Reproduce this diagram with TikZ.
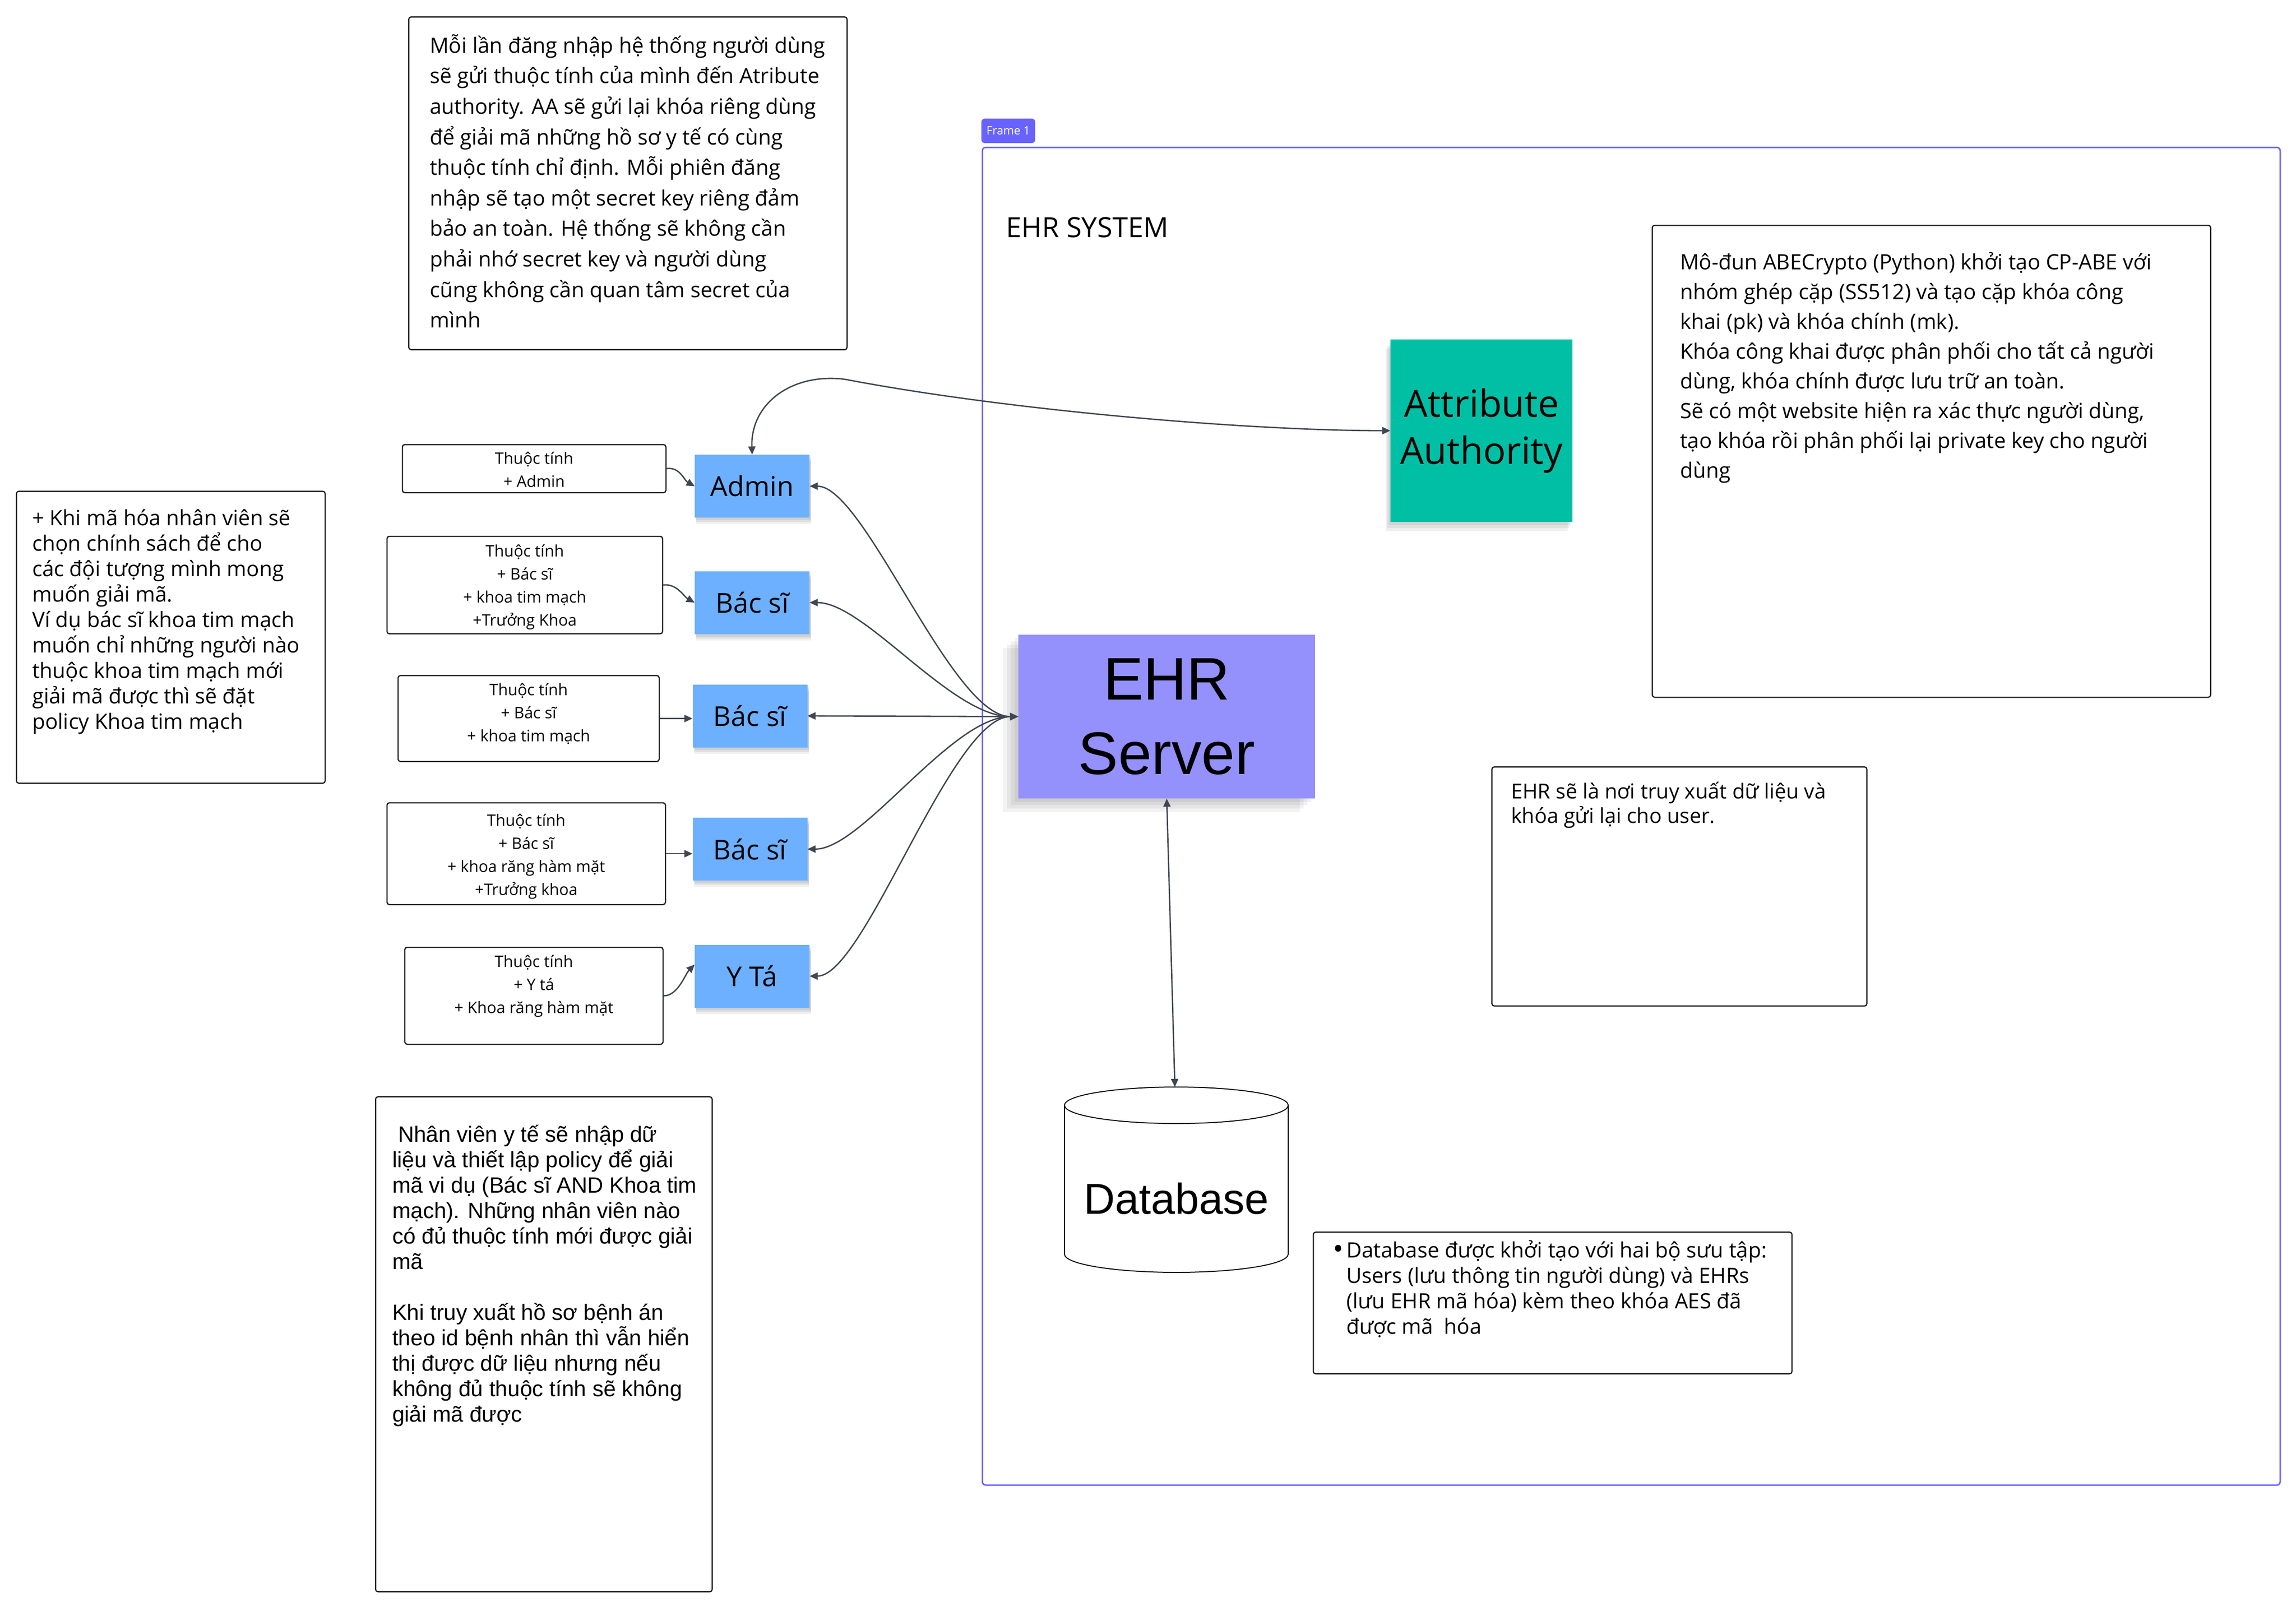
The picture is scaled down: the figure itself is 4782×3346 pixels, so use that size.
\documentclass[tikz,border=0pt]{standalone}
\usepackage{fontspec}
\setmainfont{Open Sans}
\newfontfamily\arialf{Liberation Sans}
\usetikzlibrary{arrows.meta,shadows,calc}
\definecolor{framec}{RGB}{104,98,255}
\definecolor{bluec}{RGB}{108,176,255}
\definecolor{tealc}{RGB}{0,191,165}
\definecolor{ehrc}{RGB}{148,145,252}
\definecolor{connc}{RGB}{64,70,80}
\definecolor{boxc}{RGB}{30,30,30}
\begin{document}
\begin{tikzpicture}[x=1pt,y=-1pt,
  notebox/.style={draw=boxc, fill=white, line width=2.5pt, rounded corners=5pt, inner sep=0pt, anchor=north west},
  notetext/.style={inner sep=0pt, anchor=north west, align=left},
  attrbox/.style={draw=boxc, fill=white, line width=2.5pt, rounded corners=5pt, inner sep=0pt},
  attrtext/.style={inner sep=0pt, anchor=north, align=center, font=\fontsize{33}{48}\selectfont},
  blueshadow/.style={
    general shadow={fill=black, opacity=0.07, shadow xshift=3pt, shadow yshift=-5pt},
    general shadow={fill=black, opacity=0.07, shadow xshift=3pt, shadow yshift=-9pt},
    general shadow={fill=black, opacity=0.06, shadow xshift=3pt, shadow yshift=-13pt}},
  bluebox/.style={fill=bluec, minimum width=239pt, minimum height=131pt, inner sep=0pt,
    font=\fontsize{57}{60}\selectfont, blueshadow},
  conn/.style={draw=connc, line width=2.8pt, <->, >={Triangle[length=17pt,width=15pt]}},
  feed/.style={draw=connc, line width=2.8pt, ->, >={Triangle[length=17pt,width=15pt]}}
]
\useasboundingbox (0,0) rectangle (4782,3346);
\fill[white] (0,0) rectangle (4782,3346);

% Frame
\draw[framec, line width=3pt, rounded corners=7pt] (2046,307) rectangle (4749,3093);
\node[fill=framec, rounded corners=7pt, minimum width=112pt, minimum height=51pt, inner sep=0pt,
  text=white, font=\fontsize{24}{26}\selectfont] (framelbl) at (2100,272.5) {Frame 1};
\node[inner sep=0pt, anchor=base west, font=\fontsize{58}{60}\selectfont] (systitle) at (2095,494) {EHR SYSTEM};

% Top note
\node[notebox, minimum width=913pt, minimum height=693pt] (topnote) at (850,34) {};
\node[notetext, font=\fontsize{44}{63.6}\selectfont] (topnotetext) at (895,59.4) {\rule{0pt}{50.6pt}Mỗi lần đăng nhập hệ thống người dùng\\
sẽ gửi thuộc tính của mình đến Atribute\\
authority. AA sẽ gửi lại khóa riêng dùng\\
để giải mã những hồ sơ y tế có cùng\\
thuộc tính chỉ định. Mỗi phiên đăng\\
nhập sẽ tạo một secret key riêng đảm\\
bảo an toàn. Hệ thống sẽ không cần\\
phải nhớ secret key và người dùng\\
cũng không cần quan tâm secret của\\
mình};

% Left note
\node[notebox, minimum width=643pt, minimum height=608pt] (leftnote) at (33,1022) {};
\node[notetext, font=\fontsize{44}{53}\selectfont] (leftnotetext) at (67,1043.4) {\rule{0pt}{50.6pt}+ Khi mã hóa nhân viên sẽ\\
chọn chính sách để cho\\
các đội tượng mình mong\\
muốn giải mã.\\
Ví dụ bác sĩ khoa tim mạch\\
muốn chỉ những người nào\\
thuộc khoa tim mạch mới\\
giải mã được thì sẽ đặt\\
policy Khoa tim mạch};

% Right top note
\node[notebox, minimum width=1163pt, minimum height=983pt] (abenote) at (3440,468) {};
\node[notetext, font=\fontsize{44}{62}\selectfont] (abenotetext) at (3499,510.4) {\rule{0pt}{50.6pt}Mô-đun ABECrypto (Python) khởi tạo CP-ABE với\\
nhóm ghép cặp (SS512) và tạo cặp khóa công\\
khai (pk) và khóa chính (mk).\\
Khóa công khai được phân phối cho tất cả người\\
dùng, khóa chính được lưu trữ an toàn.\\
Sẽ có một website hiện ra xác thực người dùng,\\
tạo khóa rồi phân phối lại private key cho người\\
dùng};

% EHR note
\node[notebox, minimum width=781pt, minimum height=498pt] (ehrnote) at (3106,1596) {};
\node[notetext, font=\fontsize{43}{51}\selectfont] (ehrnotetext) at (3147,1613.5) {\rule{0pt}{49.5pt}EHR sẽ là nơi truy xuất dữ liệu và\\
khóa gửi lại cho user.};

% DB note
\node[notebox, minimum width=997pt, minimum height=295pt] (dbnote) at (2734,2565) {};
\node[notetext, font=\fontsize{44}{53}\selectfont] (dbnotetext) at (2804,2568.4) {\rule{0pt}{50.6pt}\llap{{\fontsize{58}{58}\selectfont\raisebox{-0.04em}{•}}\hspace{6pt}}Database được khởi tạo với hai bộ sưu tập:\\
Users (lưu thông tin người dùng) và EHRs\\
(lưu EHR mã hóa) kèm theo khóa AES đã\\
được mã\ \ hóa};

% Bottom note
\node[notebox, minimum width=701pt, minimum height=1031pt] (policynote) at (781,2283) {};
\node[notetext, font=\arialf\fontsize{46}{53}\selectfont] (policynotetext) at (817,2325.1) {\rule{0pt}{52.9pt}\hspace*{12pt}Nhân viên y tế sẽ nhập dữ\\
liệu và thiết lập policy để giải\\
mã vi dụ (Bác sĩ AND Khoa tim\\
mạch). Những nhân viên nào\\
có đủ thuộc tính mới được giải\\
mã\\[53pt]
Khi truy xuất hồ sơ bệnh án\\
theo id bệnh nhân thì vẫn hiển\\
thị được dữ liệu nhưng nếu\\
không đủ thuộc tính sẽ không\\
giải mã được};

% Attribute boxes
\node[attrbox, minimum width=549pt, minimum height=100pt] (a1) at (1112.5,976) {};
\node[attrtext] (a1t) at (1112.5,928) {\rule{0pt}{38pt}Thuộc tính\\+ Admin};
\node[attrbox, minimum width=574pt, minimum height=203pt] (a2) at (1093,1218.5) {};
\node[attrtext] (a2t) at (1093,1121) {\rule{0pt}{38pt}Thuộc tính\\+ Bác sĩ\\+ khoa tim mạch\\+Trưởng Khoa};
\node[attrbox, minimum width=544pt, minimum height=179pt] (a3) at (1101,1496.5) {};
\node[attrtext] (a3t) at (1101,1410) {\rule{0pt}{38pt}Thuộc tính\\+ Bác sĩ\\+ khoa tim mạch};
\node[attrbox, minimum width=580pt, minimum height=212pt] (a4) at (1096,1778) {};
\node[attrtext] (a4t) at (1096,1682) {\rule{0pt}{38pt}Thuộc tính\\+ Bác sĩ\\+ khoa răng hàm mặt\\+Trưởng khoa};
\node[attrbox, minimum width=538pt, minimum height=202pt] (a5) at (1112,2074) {};
\node[attrtext] (a5t) at (1112,1976) {\rule{0pt}{38pt}Thuộc tính\\+ Y tá\\+ Khoa răng hàm mặt};

% Role boxes
\node[bluebox] (admin) at (1566.5,1012.5) {Admin};
\node[bluebox] (bs1) at (1566.5,1255) {Bác sĩ};
\node[bluebox] (bs2) at (1562,1491) {Bác sĩ};
\node[bluebox] (bs3) at (1562,1768.5) {Bác sĩ};
\node[bluebox] (yta) at (1566.5,2033) {Y Tá};

% Attribute Authority
\node[fill=tealc, minimum width=379pt, minimum height=380pt, inner sep=0pt, align=center,
  font=\fontsize{78}{98}\selectfont,
  general shadow={fill=black, opacity=0.06, shadow xshift=-4pt, shadow yshift=-7pt},
  general shadow={fill=black, opacity=0.06, shadow xshift=-7pt, shadow yshift=-13pt},
  general shadow={fill=black, opacity=0.06, shadow xshift=-10pt, shadow yshift=-19pt}]
  (aa) at (3085.5,897) {Attribute\\Authority};

% EHR Server
\node[fill=ehrc, minimum width=618pt, minimum height=341pt, inner sep=0pt, align=center,
  font=\arialf\fontsize{125}{155}\selectfont,
  general shadow={fill=black, opacity=0.05, shadow xshift=-8pt, shadow yshift=-7pt},
  general shadow={fill=black, opacity=0.05, shadow xshift=-16pt, shadow yshift=-14pt},
  general shadow={fill=black, opacity=0.05, shadow xshift=-24pt, shadow yshift=-21pt},
  general shadow={fill=black, opacity=0.05, shadow xshift=-32pt, shadow yshift=-28pt}]
  (ehr) at (2430,1492.5) {EHR\\Server};

% Database cylinder
\fill[white] (2217,2302) rectangle (2683,2612);
\draw[line width=2pt, fill=white] (2217,2302) -- (2217,2612) arc[start angle=180, end angle=0, x radius=233, y radius=38] -- (2683,2302);
\draw[line width=2pt, fill=white] (2450,2302) ellipse [x radius=233, y radius=38];
\node[inner sep=0pt, font=\arialf\fontsize{90}{100}\selectfont] (db) at (2450,2496) {Database};
\coordinate (dbtop) at (2447,2264);

% Attribute -> role arrows
\draw[feed] (a1.east) .. controls +(28,-4) and +(-22,-12) .. (admin.west);
\draw[feed] (a2.east) .. controls +(28,-4) and +(-22,-12) .. (bs1.west);
\draw[feed] (a3.east) -- (a3.east -| bs2.west);
\draw[feed] (a4.east) -- (a4.east -| bs3.west);
\draw[feed] (a5.east) .. controls +(30,0) and +(-20,20) .. ([yshift=24pt]yta.west);

% Role <-> EHR
\draw[conn] (admin.east) .. controls +(115,0) and +(-140,0) .. (ehr.west);
\draw[conn] (bs1.east) .. controls +(115,0) and +(-140,0) .. (ehr.west);
\draw[conn] (bs2.east) -- (ehr.west);
\draw[conn] (bs3.east) .. controls +(115,0) and +(-140,0) .. (ehr.west);
\draw[conn] (yta.east) .. controls +(115,0) and +(-140,0) .. (ehr.west);

% Admin <-> AA
\draw[conn] (admin.north) .. controls (1563,840) and (1650,776) .. (1760,790) .. controls (2100,855) and (2600,897) .. (aa.west);

% EHR <-> DB
\draw[conn] (ehr.south) -- (dbtop);
\end{tikzpicture}
\end{document}
